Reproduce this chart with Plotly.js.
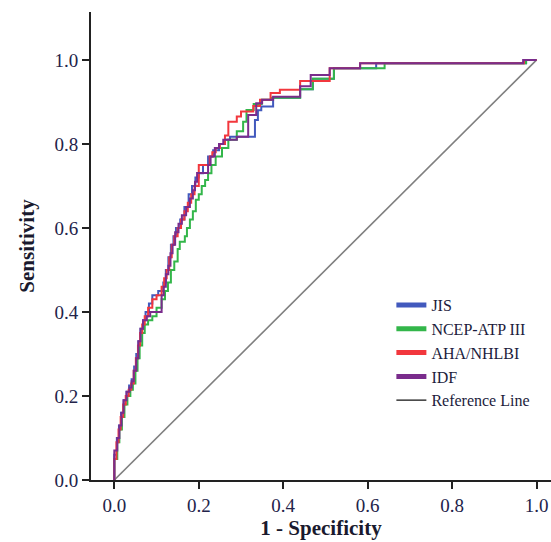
<!DOCTYPE html>
<html>
<head>
<meta charset="utf-8">
<script src="https://cdn.plot.ly/plotly-3.0.1.min.js"></script>
<style>html,body{margin:0;padding:0;background:#fff;}#chart{width:551px;height:542px;}</style>
</head>
<body>
<div id="chart"></div>
<script>
// ROC curves (1 - Specificity, Sensitivity), step curves
const jisFpr = [0, 0, 0.006, 0.011, 0.016, 0.022, 0.029, 0.035, 0.041, 0.047, 0.052, 0.057, 0.062, 0.068, 0.074, 0.082, 0.090, 0.104, 0.116, 0.122, 0.128, 0.134, 0.140, 0.146, 0.156, 0.166, 0.176, 0.184, 0.192, 0.200, 0.210, 0.222, 0.234, 0.248, 0.262, 0.274, 0.333, 0.340, 0.348, 0.376, 0.440, 0.470, 0.520, 0.620, 0.975, 1.0];
const jisTpr = [0, 0.06, 0.10, 0.13, 0.16, 0.19, 0.21, 0.225, 0.24, 0.27, 0.30, 0.33, 0.36, 0.38, 0.40, 0.42, 0.44, 0.45, 0.47, 0.50, 0.53, 0.56, 0.58, 0.60, 0.62, 0.65, 0.68, 0.70, 0.72, 0.73, 0.75, 0.77, 0.785, 0.80, 0.81, 0.817, 0.857, 0.88, 0.889, 0.91, 0.93, 0.955, 0.98, 0.992, 1.0, 1.0];

const ncepFpr = [0, 0, 0.007, 0.012, 0.018, 0.024, 0.031, 0.038, 0.044, 0.050, 0.055, 0.060, 0.066, 0.072, 0.080, 0.090, 0.100, 0.112, 0.120, 0.127, 0.134, 0.142, 0.150, 0.155, 0.167, 0.172, 0.179, 0.186, 0.193, 0.200, 0.207, 0.215, 0.222, 0.230, 0.240, 0.255, 0.270, 0.290, 0.305, 0.313, 0.330, 0.349, 0.372, 0.440, 0.470, 0.520, 0.640, 0.975, 1.0];
const ncepTpr = [0, 0.05, 0.09, 0.12, 0.15, 0.18, 0.20, 0.215, 0.23, 0.26, 0.29, 0.32, 0.35, 0.37, 0.38, 0.39, 0.41, 0.43, 0.45, 0.47, 0.50, 0.52, 0.55, 0.567, 0.58, 0.60, 0.62, 0.64, 0.667, 0.68, 0.70, 0.714, 0.73, 0.75, 0.77, 0.79, 0.81, 0.83, 0.853, 0.881, 0.895, 0.905, 0.91, 0.93, 0.955, 0.98, 0.992, 1.0, 1.0];

const ahaFpr = [0, 0, 0.005, 0.010, 0.015, 0.021, 0.027, 0.034, 0.040, 0.046, 0.051, 0.056, 0.061, 0.066, 0.072, 0.080, 0.090, 0.100, 0.112, 0.118, 0.124, 0.130, 0.136, 0.142, 0.150, 0.158, 0.166, 0.174, 0.182, 0.190, 0.200, 0.226, 0.232, 0.240, 0.250, 0.262, 0.270, 0.290, 0.300, 0.329, 0.345, 0.370, 0.392, 0.440, 0.510, 0.582, 0.970, 1.0];
const ahaTpr = [0, 0.05, 0.09, 0.12, 0.15, 0.18, 0.20, 0.215, 0.23, 0.26, 0.29, 0.32, 0.35, 0.37, 0.39, 0.41, 0.43, 0.44, 0.46, 0.48, 0.50, 0.53, 0.56, 0.58, 0.60, 0.62, 0.64, 0.66, 0.68, 0.70, 0.75, 0.77, 0.78, 0.79, 0.80, 0.82, 0.853, 0.865, 0.877, 0.89, 0.905, 0.921, 0.929, 0.95, 0.98, 0.992, 1.0, 1.0];

const idfFpr = [0, 0, 0.007, 0.012, 0.017, 0.022, 0.029, 0.036, 0.041, 0.046, 0.052, 0.057, 0.062, 0.068, 0.077, 0.085, 0.112, 0.117, 0.122, 0.128, 0.133, 0.138, 0.144, 0.152, 0.160, 0.170, 0.179, 0.186, 0.191, 0.196, 0.222, 0.228, 0.238, 0.248, 0.258, 0.290, 0.317, 0.336, 0.350, 0.376, 0.440, 0.465, 0.510, 0.582, 0.968, 1.0];
const idfTpr = [0, 0.07, 0.10, 0.13, 0.16, 0.19, 0.21, 0.22, 0.235, 0.26, 0.29, 0.33, 0.36, 0.38, 0.39, 0.40, 0.44, 0.46, 0.49, 0.51, 0.54, 0.56, 0.59, 0.61, 0.63, 0.65, 0.67, 0.69, 0.71, 0.731, 0.75, 0.77, 0.79, 0.80, 0.81, 0.817, 0.869, 0.897, 0.905, 0.912, 0.937, 0.964, 0.98, 0.992, 1.0, 1.0];

const refX = [0, 1];
const refY = [0, 1];

const seriesNames = ["JIS", "NCEP-ATP III", "AHA/NHLBI", "IDF"];
const seriesColors = ["#4259bd", "#33b64a", "#f2373d", "#7a2c8c"];
const seriesFpr = [jisFpr, ncepFpr, ahaFpr, idfFpr];
const seriesTpr = [jisTpr, ncepTpr, ahaTpr, idfTpr];
const refName = "Reference Line";

const xTicks = [0, 0.2, 0.4, 0.6, 0.8, 1.0];
const yTicks = [0, 0.2, 0.4, 0.6, 0.8, 1.0];

const serif = "Liberation Serif, Times New Roman, serif";
const traces = [];

traces.push({x: refX, y: refY, mode: "lines", line: {color: "#7f7f7f", width: 1.6},
  showlegend: false, hoverinfo: "skip"});

for (let i = 0; i < seriesNames.length; i++) {
  traces.push({x: seriesFpr[i], y: seriesTpr[i], mode: "lines", name: seriesNames[i],
    line: {color: seriesColors[i], width: 2, shape: "hv"}, showlegend: false});
}
// legend entries (thick swatches like the original)
for (let i = 0; i < seriesNames.length; i++) {
  traces.push({x: [null], y: [null], mode: "lines", name: seriesNames[i],
    line: {color: seriesColors[i], width: 5}, showlegend: true});
}
traces.push({x: [null], y: [null], mode: "lines", name: refName,
  line: {color: "#111111", width: 1.3}, showlegend: true});

const axisCommon = {
  showgrid: false, zeroline: false, showline: true, linecolor: "#222", linewidth: 2,
  ticks: "outside", ticklen: 7, tickwidth: 2, tickcolor: "#222",
  tickformat: ".1f", tickfont: {family: serif, size: 19, color: "#23234a"}
};

const layout = {
  width: 551, height: 542,
  margin: {l: 91, r: 0, t: 12, b: 62},
  paper_bgcolor: "#fff", plot_bgcolor: "#fff",
  xaxis: Object.assign({}, axisCommon, {
    range: [-0.0552, 1.034], tickvals: xTicks,
    title: {text: "<b>1 - Specificity</b>", font: {family: serif, size: 21, color: "#1a1a2e"}, standoff: 6}
  }),
  yaxis: Object.assign({}, axisCommon, {
    range: [0, 1.114], tickvals: yTicks,
    title: {text: "<b>Sensitivity</b>", font: {family: serif, size: 21, color: "#1a1a2e"}, standoff: 14}
  }),
  showlegend: true,
  legend: {x: 0.653, y: 0.41, xanchor: "left", yanchor: "top", bgcolor: "rgba(0,0,0,0)",
    font: {family: serif, size: 16, color: "#1c1c3c"}, tracegroupgap: 0}
};

Plotly.newPlot("chart", traces, layout, {displayModeBar: false, staticPlot: true});
</script>
</body>
</html>
